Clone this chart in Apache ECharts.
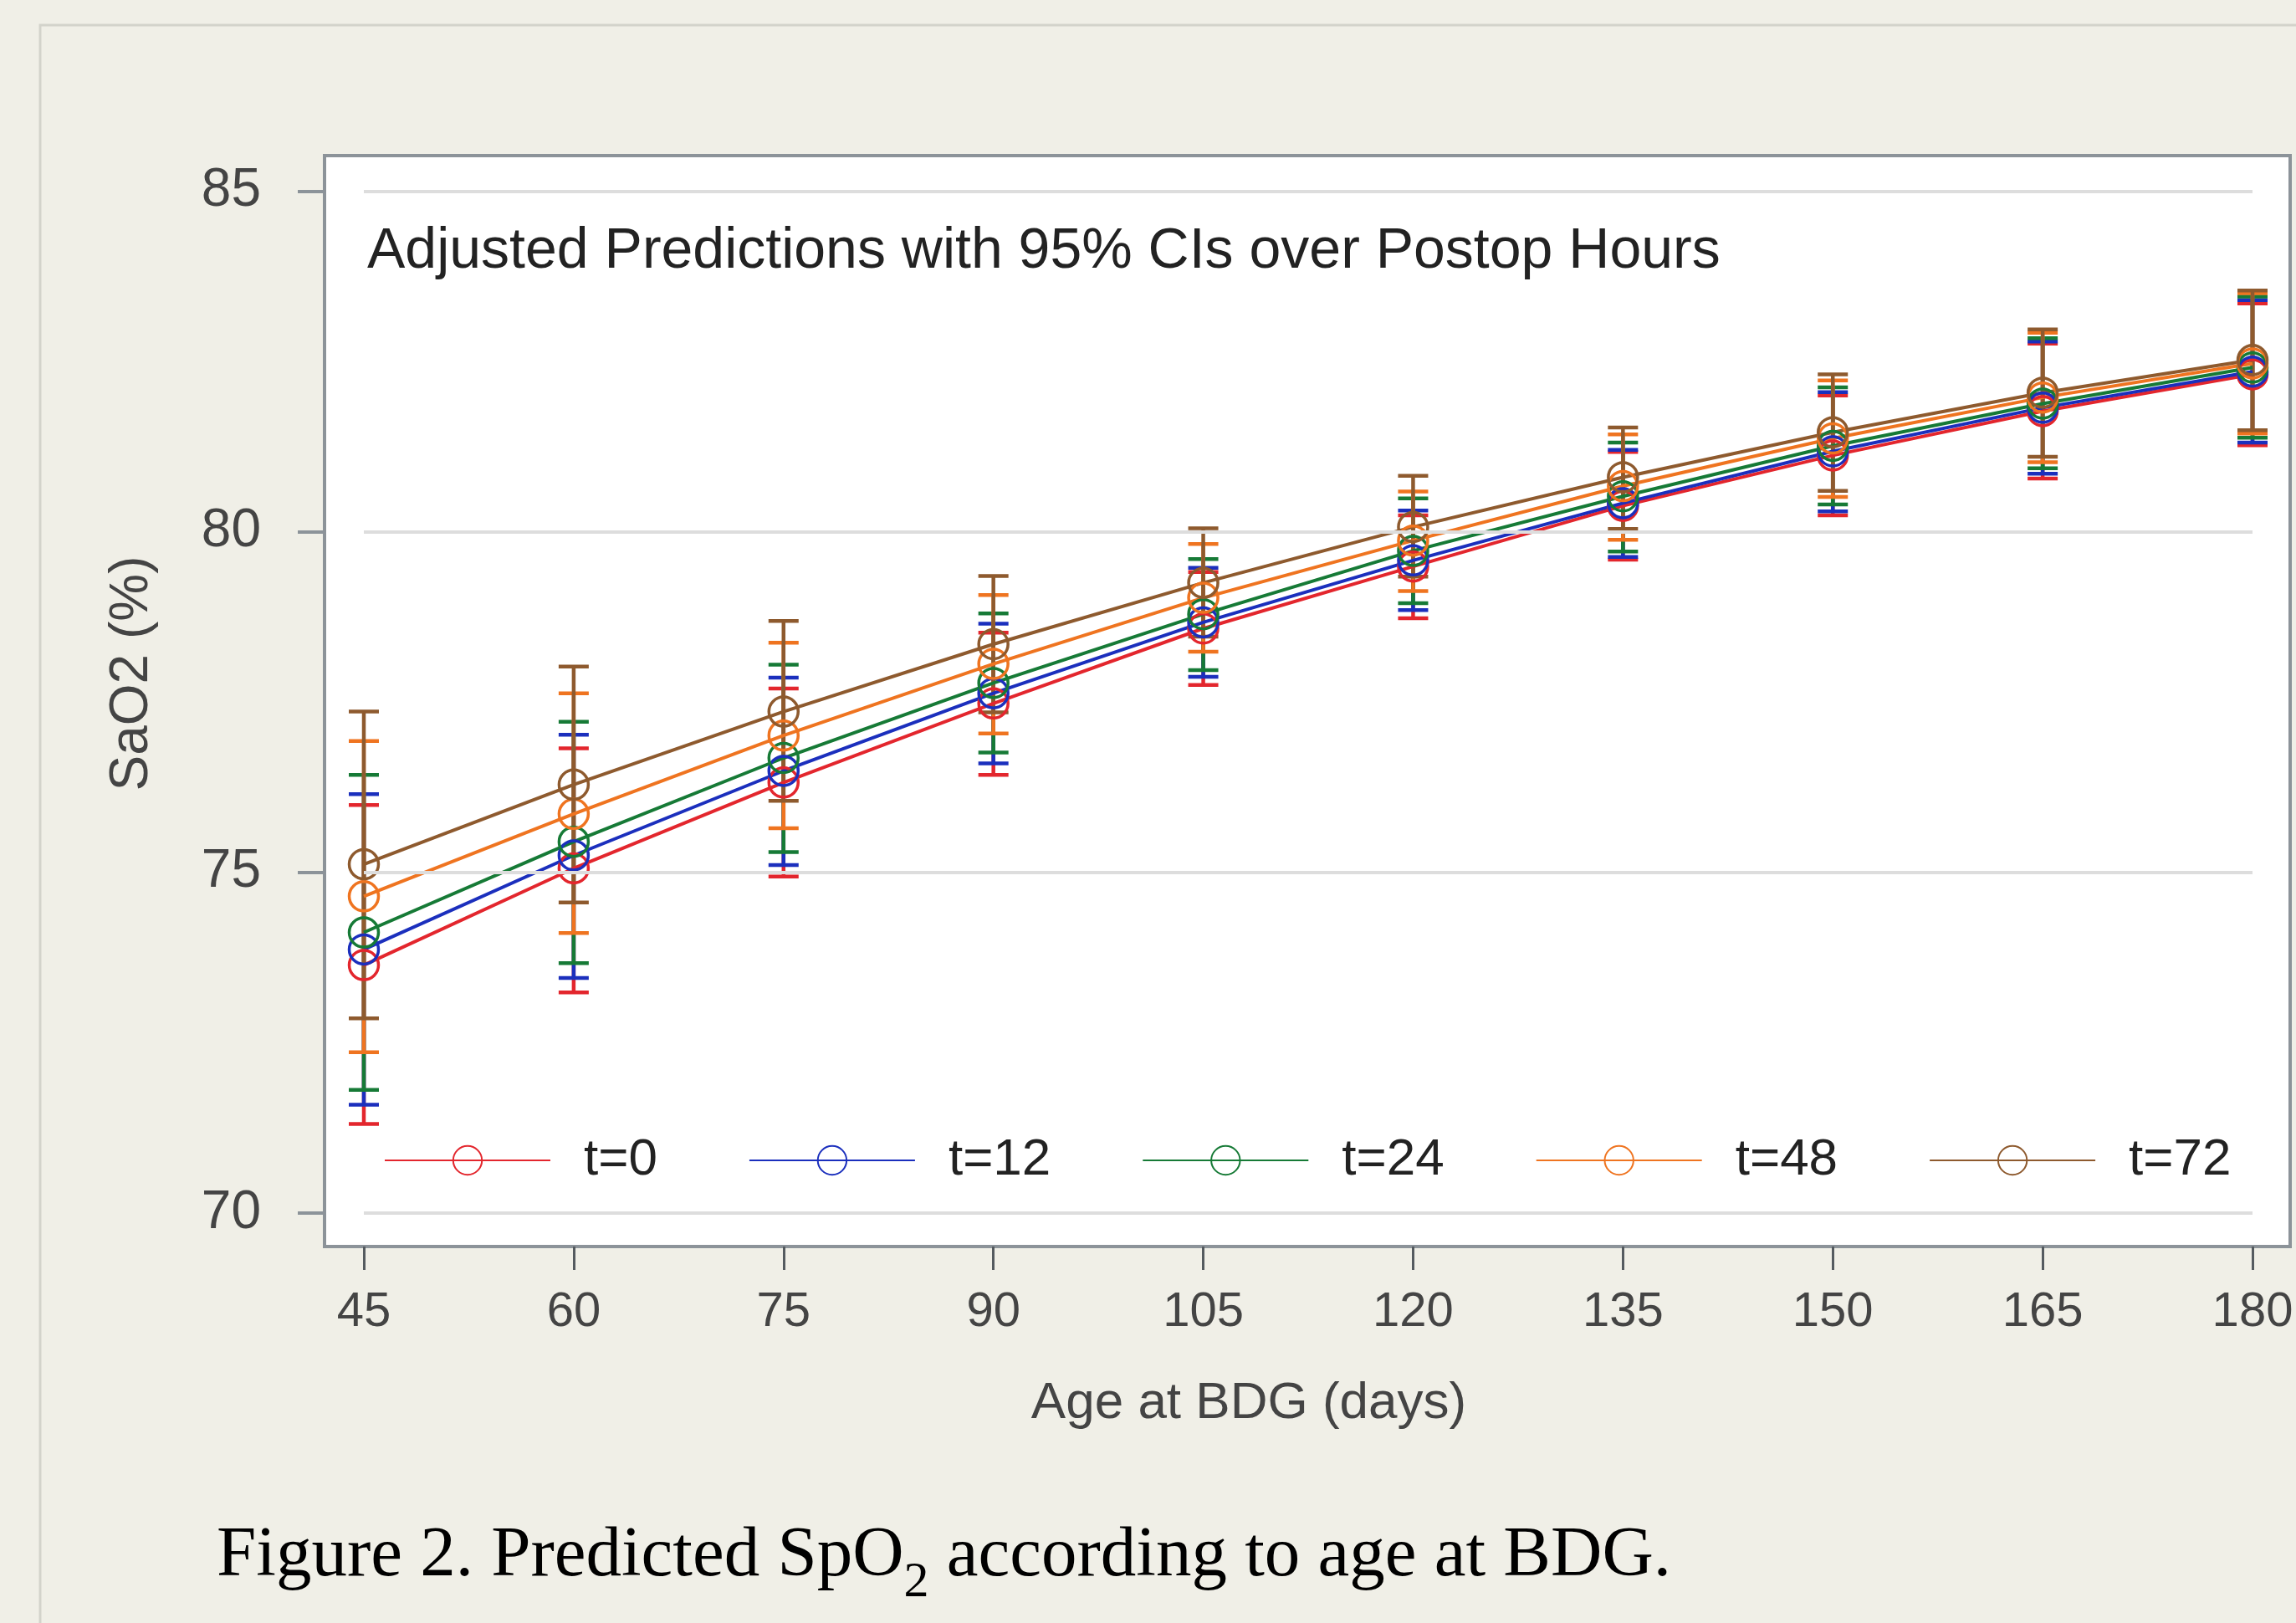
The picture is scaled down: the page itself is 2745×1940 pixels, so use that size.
<!DOCTYPE html>
<html>
<head>
<meta charset="utf-8">
<script src="https://cdn.jsdelivr.net/npm/echarts@6/dist/echarts.min.js"></script>
<style>
  html, body { margin: 0; padding: 0; background: #f0efe7; }
  #chart { width: 2745px; height: 1940px; }
</style>
</head>
<body>
<div id="chart"></div>
<script>
// age at BDG (days)
const ages = [45, 60, 75, 90, 105, 120, 135, 150, 165, 180];
const yTicks = [70, 75, 80, 85];

const groupNames = ['t=0', 't=12', 't=24', 't=48', 't=72'];
const groupColors = ['#e3262d', '#1b2fbd', '#167a36', '#ef7420', '#8e5a2e'];

// predicted SaO2 and 95% CI per postop hour
const mean0 = [73.64, 75.06, 76.32, 77.48, 78.58, 79.49, 80.38, 81.12, 81.77, 82.31];
const low0  = [71.31, 73.24, 74.94, 76.43, 77.75, 78.73, 79.59, 80.24, 80.78, 81.27];
const high0 = [75.99, 76.82, 77.70, 78.52, 79.41, 80.24, 81.17, 82.00, 82.76, 83.35];

const mean12 = [73.87, 75.25, 76.49, 77.63, 78.67, 79.58, 80.42, 81.18, 81.82, 82.35];
const low12  = [71.59, 73.45, 75.11, 76.60, 77.87, 78.85, 79.63, 80.30, 80.85, 81.31];
const high12 = [76.15, 77.02, 77.86, 78.65, 79.47, 80.31, 81.20, 82.05, 82.79, 83.40];

const mean24 = [74.12, 75.45, 76.68, 77.78, 78.79, 79.72, 80.52, 81.26, 81.88, 82.41];
const low24  = [71.81, 73.67, 75.30, 76.76, 77.97, 78.95, 79.71, 80.40, 80.93, 81.38];
const high24 = [76.43, 77.21, 78.05, 78.80, 79.60, 80.49, 81.31, 82.12, 82.84, 83.45];

const mean48 = [74.65, 75.86, 77.01, 78.06, 79.03, 79.87, 80.67, 81.37, 81.97, 82.47];
const low48  = [72.36, 74.11, 75.65, 77.04, 78.24, 79.13, 79.88, 80.51, 81.02, 81.44];
const high48 = [76.93, 77.63, 78.37, 79.07, 79.82, 80.59, 81.43, 82.22, 82.92, 83.50];

const mean72 = [75.12, 76.29, 77.36, 78.35, 79.25, 80.07, 80.80, 81.46, 82.04, 82.52];
const low72  = [72.86, 74.56, 76.05, 77.35, 78.46, 79.34, 80.04, 80.60, 81.10, 81.49];
const high72 = [77.36, 78.02, 78.69, 79.35, 80.05, 80.82, 81.53, 82.31, 82.97, 83.54];

const means = [mean0, mean12, mean24, mean48, mean72];
const lows = [low0, low12, low24, low48, low72];
const highs = [high0, high12, high24, high48, high72];

const sans = '"Liberation Sans", Arial, sans-serif';
const serif = '"Liberation Serif", "Times New Roman", serif';

function renderCap(params, api) {
    const x = api.value(0);
    const lo = api.coord([x, api.value(1)]);
    const hi = api.coord([x, api.value(2)]);
    const style = { stroke: api.visual('color'), lineWidth: 4.5 };
    const w = 18;
    return {
        type: 'group',
        children: [
            { type: 'line', shape: { x1: lo[0], y1: lo[1], x2: hi[0], y2: hi[1] }, style: style },
            { type: 'line', shape: { x1: lo[0] - w, y1: lo[1], x2: lo[0] + w, y2: lo[1] }, style: style },
            { type: 'line', shape: { x1: hi[0] - w, y1: hi[1], x2: hi[0] + w, y2: hi[1] }, style: style }
        ]
    };
}

const series = [];

// horizontal reference lines, only across the data range like the original
series.push({
    name: 'grid',
    type: 'line',
    data: [],
    z: 1,
    silent: true,
    markLine: {
        silent: true,
        symbol: 'none',
        label: { show: false },
        lineStyle: { color: '#dddddd', width: 4, type: 'solid' },
        data: yTicks.map(v => [{ coord: [ages[0], v] }, { coord: [ages[ages.length - 1], v] }])
    }
});

groupNames.forEach((name, i) => {
    series.push({
        name: name + ' CI',
        type: 'custom',
        z: 2,
        renderItem: renderCap,
        itemStyle: { color: groupColors[i] },
        encode: { x: 0, y: [1, 2] },
        data: ages.map((a, j) => [a, lows[i][j], highs[i][j]])
    });
});

groupNames.forEach((name, i) => {
    series.push({
        name: name,
        type: 'line',
        z: 3,
        symbol: 'circle',
        symbolSize: 35,
        lineStyle: { color: groupColors[i], width: 4 },
        itemStyle: { color: 'rgba(255,255,255,0)', borderColor: groupColors[i], borderWidth: 3.5 },
        data: ages.map((a, j) => [a, means[i][j]])
    });
});

const chart = echarts.init(document.getElementById('chart'));
chart.setOption({
    backgroundColor: '#f0efe7',
    animation: false,
    graphic: [{
        type: 'rect',
        shape: { x: 48, y: 30, width: 2800, height: 2000 },
        style: { fill: 'none', stroke: '#d3d3cb', lineWidth: 3 },
        z: -1
    }],
    title: [{
        text: 'Adjusted Predictions with 95% CIs over Postop Hours',
        left: 439,
        top: 267,
        padding: 0,
        textStyle: { fontFamily: sans, fontSize: 68, fontWeight: 'normal', color: '#222222' }
    }, {
        text: '{n|Figure 2. Predicted SpO}{s|2}{n| according to age at BDG.}',
        left: 259,
        top: 1796,
        padding: 0,
        textStyle: {
            fontWeight: 'normal',
            rich: {
                n: { fontFamily: serif, fontSize: 85, fontWeight: 'normal', lineHeight: 130, color: '#000000' },
                s: { fontFamily: serif, fontSize: 60, fontWeight: 'normal', lineHeight: 46, verticalAlign: 'top', padding: [66, 0, 0, 0], color: '#000000' }
            }
        }
    }],
    legend: {
        data: groupNames,
        left: 459,
        top: 1356,
        padding: 0,
        itemWidth: 198,
        itemHeight: 43,
        itemGap: 109,
        textStyle: { fontFamily: sans, fontSize: 62, color: '#222222', padding: [0, 0, 0, 35] }
    },
    grid: {
        left: 388,
        top: 186,
        right: 2745 - 2738,
        bottom: 1940 - 1490,
        show: true,
        backgroundColor: '#ffffff',
        borderColor: '#8c9399',
        borderWidth: 4,
        outerBoundsMode: 'none'
    },
    xAxis: {
        type: 'value',
        min: 42.19,
        max: 182.69,
        name: 'Age at BDG (days)',
        nameLocation: 'middle',
        nameGap: 157,
        nameTextStyle: { fontFamily: sans, fontSize: 62, color: '#444444', padding: [0, 140, 0, 0] },
        axisLine: { show: false },
        axisTick: { show: true, customValues: ages, length: 28, lineStyle: { color: '#555b60', width: 3 } },
        axisLabel: { customValues: ages, margin: 50, fontFamily: sans, fontSize: 58, color: '#444444' },
        splitLine: { show: false }
    },
    yAxis: {
        type: 'value',
        min: 69.51,
        max: 85.52,
        name: 'SaO2 (%)',
        nameLocation: 'middle',
        nameGap: 198,
        nameTextStyle: { fontFamily: sans, fontSize: 64, color: '#444444', padding: [0, 0, 0, 66] },
        axisLine: { show: false },
        axisTick: { show: true, customValues: yTicks, length: 32, lineStyle: { color: '#8c9399', width: 4 } },
        axisLabel: { customValues: yTicks, margin: 76, fontFamily: sans, fontSize: 64, color: '#444444' },
        splitLine: { show: false }
    },
    series: series
});
</script>
</body>
</html>
